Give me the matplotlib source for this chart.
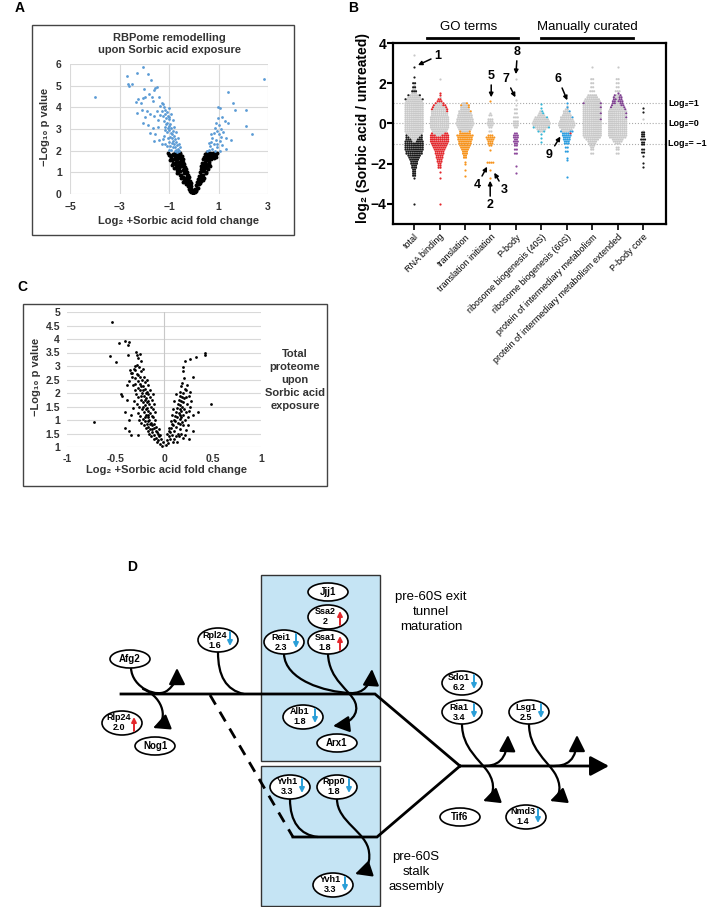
import numpy as np
import matplotlib
matplotlib.use('Agg')
import matplotlib.pyplot as plt
from matplotlib.patches import Rectangle, Ellipse, FancyArrowPatch
from matplotlib.path import Path

plt.rcParams['font.family'] = ['Liberation Sans', 'DejaVu Sans']

W, H = 709, 907

# ---------------- panel A data (RBPome volcano) ----------------
a_blue = [(-4.0, 4.47), (-2.04, 5.85), (-1.84, 5.53), (-2.28, 5.57), (-2.69, 5.43), (-2.65, 5.10),
          (-2.49, 5.10), (-2.60, 5.00), (-1.71, 5.25), (-1.50, 4.95), (-1.55, 4.88), (-1.60, 4.80),
          (-2.00, 4.83), (-2.05, 4.45), (-1.95, 4.50), (-2.25, 4.40), (-2.35, 4.25), (-2.15, 4.20),
          (-1.80, 4.60), (-1.70, 4.50), (-1.65, 4.30), (-1.40, 4.50), (-1.30, 4.20), (-1.25, 4.15),
          (-1.35, 4.05), (-2.30, 3.75), (-2.10, 3.90), (-1.90, 3.85), (-1.75, 3.70), (-1.95, 3.55),
          (-2.05, 3.30), (-1.85, 3.20), (-1.60, 3.60), (-1.50, 3.85), (-1.45, 3.40), (-1.65, 3.05),
          (-1.75, 2.80), (-1.55, 2.75), (-1.45, 3.10), (-1.40, 2.50), (-1.60, 2.45), (-1.30, 2.30),
          (-1.20, 2.70), (-1.20, 4.00), (-1.15, 3.90), (-1.10, 3.80), (-1.18, 3.70), (-1.05, 3.60),
          (-1.12, 3.50), (-1.00, 3.45), (-1.08, 3.30), (-0.95, 3.25), (-1.02, 3.15), (-0.90, 3.05),
          (-0.98, 2.95), (-0.85, 2.90), (-0.93, 2.80), (-0.80, 2.70), (-0.88, 2.60), (-0.75, 2.55),
          (-0.83, 2.45), (-0.70, 2.40), (-0.78, 2.30), (-0.66, 2.25), (-0.74, 2.15), (-0.62, 2.10),
          (-0.70, 2.05), (-0.58, 2.00), (-0.66, 1.95), (-1.25, 3.60), (-1.22, 3.35), (-1.15, 3.10),
          (-1.10, 2.85), (-1.05, 2.60), (-1.00, 2.40), (-0.95, 2.20), (-0.90, 2.05), (-1.15, 2.30),
          (-1.25, 2.55), (-0.60, 2.30), (-0.65, 2.60), (-0.72, 2.85), (-0.78, 3.10), (-0.85, 3.40),
          (-0.92, 3.70), (-1.00, 3.95), (-1.30, 3.85), (-1.35, 3.65), (-0.55, 2.15), (-0.95, 2.65),
          (-0.88, 2.35), (-0.82, 2.15), (-1.05, 3.05), (-1.12, 3.25), (-1.08, 2.20), (-0.86, 2.75),
          (-0.98, 3.55), (-1.18, 2.95), (-0.76, 2.00), (-1.02, 2.05),
          (0.98, 4.00), (1.05, 3.95), (1.39, 4.70), (1.60, 4.20), (1.67, 3.90), (1.14, 3.55),
          (0.98, 3.50), (2.82, 5.30), (2.12, 3.90), (2.12, 3.13), (2.37, 2.76), (0.90, 3.30),
          (1.00, 3.20), (1.10, 3.00), (0.85, 3.05), (0.95, 2.90), (0.80, 2.80), (1.20, 2.85),
          (1.30, 2.60), (0.75, 2.60), (0.90, 2.50), (1.05, 2.45), (0.70, 2.40), (0.80, 2.30),
          (1.15, 2.25), (0.65, 2.20), (0.75, 2.10), (0.95, 2.15), (0.60, 2.05), (0.85, 2.00),
          (1.05, 2.00), (0.55, 1.98), (1.40, 3.30), (1.25, 3.35), (1.50, 2.50), (0.70, 2.75),
          (1.10, 2.65), (0.92, 2.30), (1.00, 2.75), (0.62, 2.35), (1.30, 2.10)]

a_black = [(-0.05, 0.05), (-0.08, 0.15), (-0.04, 0.20), (-0.12, 0.25), (-0.10, 0.35), (-0.16, 0.40),
           (-0.13, 0.50), (-0.20, 0.55), (-0.17, 0.62), (-0.24, 0.70), (-0.20, 0.78), (-0.28, 0.82),
           (-0.25, 0.90), (-0.32, 0.95), (-0.28, 1.02), (-0.36, 1.08), (-0.33, 1.15), (-0.40, 1.20),
           (-0.36, 1.26), (-0.44, 1.30), (-0.40, 1.38), (-0.48, 1.42), (-0.44, 1.50), (-0.52, 1.55),
           (-0.48, 1.62), (-0.56, 1.66), (-0.52, 1.72), (-0.60, 1.76), (-0.56, 1.84), (-0.64, 1.86),
           (-0.60, 1.92), (-0.68, 1.90), (-0.72, 1.82), (-0.76, 1.88), (-0.80, 1.80), (-0.85, 1.85),
           (-0.90, 1.70), (-0.95, 1.78), (-1.00, 1.80), (-1.05, 1.87), (-0.66, 1.60), (-0.70, 1.50),
           (-0.75, 1.40), (-0.62, 1.35), (-0.58, 1.20), (-0.55, 1.05), (-0.50, 0.90), (-0.45, 0.80),
           (-0.40, 0.65), (-0.35, 0.55), (-0.30, 0.45), (-0.25, 0.35), (-0.20, 0.25), (-0.15, 0.15),
           (-0.86, 1.34), (-0.57, 0.88), (-0.29, 0.50), (-0.10, 0.10), (-0.80, 1.60), (-0.88, 1.55),
           (-0.72, 1.25), (-0.66, 1.10), (-0.50, 1.30), (-0.45, 1.10), (-0.38, 0.95), (-0.33, 0.75),
           (-0.27, 0.62), (-0.22, 0.45), (-0.64, 1.70), (-0.70, 1.72), (-0.54, 1.45), (-0.60, 1.50),
           (-0.93, 1.62), (-0.82, 1.45), (-0.76, 1.65), (-0.48, 1.75), (-0.42, 1.60), (-0.55, 1.90),
           (-0.62, 1.02), (-0.52, 0.75), (-0.42, 0.55), (-0.78, 1.20), (-0.68, 0.95), (-0.95, 1.55),
           (0.04, 0.10), (0.08, 0.18), (0.06, 0.25), (0.12, 0.30), (0.10, 0.40), (0.16, 0.45),
           (0.13, 0.55), (0.20, 0.60), (0.17, 0.70), (0.24, 0.75), (0.20, 0.85), (0.28, 0.90),
           (0.24, 1.00), (0.32, 1.05), (0.28, 1.15), (0.36, 1.20), (0.31, 1.30), (0.40, 1.35),
           (0.35, 1.45), (0.44, 1.50), (0.39, 1.60), (0.48, 1.62), (0.43, 1.72), (0.52, 1.75),
           (0.47, 1.85), (0.56, 1.88), (0.52, 1.93), (0.60, 1.80), (0.64, 1.90), (0.68, 1.85),
           (0.72, 1.78), (0.76, 1.88), (0.80, 1.82), (0.85, 1.90), (0.90, 1.85), (0.95, 1.88),
           (0.56, 1.60), (0.60, 1.50), (0.64, 1.65), (0.70, 1.60), (0.50, 1.40), (0.55, 1.30),
           (0.46, 1.20), (0.42, 1.05), (0.38, 0.90), (0.33, 0.75), (0.28, 0.60), (0.22, 0.45),
           (0.16, 0.30), (0.10, 0.15), (0.66, 1.75), (0.58, 1.70), (0.75, 1.70), (0.48, 1.02),
           (0.36, 0.65), (0.25, 0.50), (0.62, 1.40), (0.80, 1.65), (0.53, 1.55), (0.45, 1.30),
           (0.30, 0.80), (0.88, 1.72), (0.40, 0.75), (0.50, 0.95), (0.58, 1.15), (0.66, 1.30)]

# ---------------- panel B data (binned dot columns: value, count) ----------------
b_names = ['total', 'RNA binding', 'translation', 'translation initiation', 'P-body',
           'ribosome biogenesis (40S)', 'ribosome biogenesis (60S)',
           'protein of intermediary metabolism', 'protein of intermediary metabolism extended',
           'P-body core']
b_colors = ['#1a1a1a', '#e3262b', '#f7941d', '#f7941d', '#8e4a9c',
            '#35b6d6', '#2b9de0', '#7d3f8f', '#7d3f8f', '#1a1a1a']

b_gray = [
    [(3.4, 1), (1.9, 1), (1.7, 2), (1.5, 3), (1.4, 5), (1.3, 7), (1.2, 8), (1.1, 9), (1.0, 10), (0.9, 10),
     (0.8, 10), (0.7, 10), (0.6, 10), (0.5, 10), (0.4, 10), (0.3, 10), (0.2, 10), (0.1, 10), (0.0, 10),
     (-0.1, 10), (-0.2, 10), (-0.3, 10), (-0.4, 10), (-0.5, 9), (-0.6, 7), (-0.7, 5), (-0.8, 3), (-0.9, 2)],
    [(2.2, 1), (1.3, 1), (1.0, 3), (0.9, 4), (0.8, 6), (0.7, 7), (0.6, 8), (0.5, 9), (0.4, 9), (0.3, 10),
     (0.2, 10), (0.1, 10), (0.0, 10), (-0.1, 10), (-0.2, 10), (-0.3, 9), (-0.4, 8), (-0.5, 6), (-0.6, 3)],
    [(1.0, 2), (0.9, 3), (0.8, 4), (0.7, 5), (0.6, 6), (0.5, 7), (0.4, 8), (0.3, 8), (0.2, 9), (0.1, 9),
     (0.0, 10), (-0.1, 9), (-0.2, 8), (-0.3, 7), (-0.4, 4)],
    [(0.5, 1), (0.4, 2), (0.2, 3), (0.1, 3), (0.0, 4), (-0.1, 3), (-0.2, 2), (-0.4, 2)],
    [(2.2, 1), (1.15, 1), (0.9, 1), (0.7, 2), (0.5, 2), (0.3, 3), (0.1, 3), (0.0, 3), (-0.1, 3), (-0.2, 2)],
    [(0.6, 1), (0.5, 2), (0.4, 4), (0.3, 6), (0.2, 8), (0.1, 9), (0.0, 10), (-0.1, 9), (-0.2, 7),
     (-0.3, 5), (-0.4, 2)],
    [(0.85, 1), (0.7, 2), (0.6, 3), (0.5, 4), (0.4, 5), (0.3, 6), (0.2, 7), (0.1, 8), (0.0, 9),
     (-0.1, 9), (-0.2, 8), (-0.3, 6), (-0.4, 4)],
    [(2.8, 1), (2.2, 2), (2.0, 2), (1.8, 2), (1.6, 3), (1.4, 5), (1.3, 6), (1.2, 8), (1.1, 9), (1.0, 8),
     (0.9, 10), (0.8, 9), (0.7, 10), (0.6, 10), (0.5, 9), (0.4, 10), (0.3, 10), (0.2, 9), (0.1, 10),
     (0.0, 10), (-0.1, 10), (-0.2, 10), (-0.3, 10), (-0.4, 10), (-0.5, 10), (-0.6, 10), (-0.7, 9),
     (-0.8, 7), (-0.9, 5), (-1.0, 4), (-1.1, 3), (-1.2, 2), (-1.3, 2), (-1.5, 2)],
    [(2.8, 1), (2.2, 2), (2.0, 2), (1.8, 2), (1.6, 3), (1.4, 2), (1.3, 2), (1.2, 1), (1.1, 1), (1.0, 2),
     (0.9, 4), (0.8, 6), (0.7, 8), (0.6, 10), (0.5, 9), (0.4, 10), (0.3, 9), (0.2, 10), (0.1, 10),
     (0.0, 10), (-0.1, 10), (-0.2, 10), (-0.3, 10), (-0.4, 10), (-0.5, 10), (-0.6, 10), (-0.7, 9),
     (-0.8, 6), (-0.9, 5), (-1.0, 3), (-1.2, 2), (-1.3, 2), (-1.5, 2)],
    [(0.2, 1), (-0.4, 1)],
]
b_hits = [
    [(2.8, 1), (2.3, 1), (2.0, 2), (1.8, 2), (1.6, 3), (1.4, 2), (1.2, 2), (-0.6, 2), (-0.7, 4),
     (-0.8, 6), (-0.9, 8), (-1.0, 10), (-1.1, 10), (-1.2, 10), (-1.3, 10), (-1.4, 9), (-1.5, 9),
     (-1.6, 7), (-1.7, 6), (-1.8, 5), (-1.9, 4), (-2.0, 4), (-2.1, 3), (-2.2, 3), (-2.3, 2), (-2.4, 2),
     (-2.5, 2), (-2.6, 2), (-2.7, 1), (-4.0, 1)],
    [(1.5, 1), (1.4, 1), (1.2, 2), (1.1, 3), (1.0, 2), (0.9, 3), (0.8, 2), (0.7, 2), (0.6, 1),
     (-0.5, 3), (-0.6, 7), (-0.7, 10), (-0.8, 10), (-0.9, 10), (-1.0, 9), (-1.1, 8), (-1.2, 7),
     (-1.3, 6), (-1.4, 5), (-1.5, 5), (-1.6, 4), (-1.7, 4), (-1.8, 3), (-1.9, 3), (-2.0, 2), (-2.1, 2),
     (-2.2, 2), (-2.4, 1), (-2.7, 1), (-4.0, 1)],
    [(1.0, 1), (0.9, 2), (0.8, 1), (0.6, 1), (-0.4, 2), (-0.5, 6), (-0.6, 9), (-0.7, 8), (-0.8, 8),
     (-0.9, 7), (-1.0, 7), (-1.1, 6), (-1.2, 5), (-1.3, 4), (-1.4, 3), (-1.5, 3), (-1.6, 2), (-1.7, 2),
     (-1.9, 1), (-2.0, 1), (-2.3, 1), (-2.6, 1)],
    [(1.1, 1), (-0.6, 3), (-0.7, 5), (-0.8, 4), (-0.9, 3), (-1.0, 3), (-1.1, 2), (-1.3, 1),
     (-1.95, 4), (-2.3, 1), (-2.7, 1)],
    [(-0.5, 2), (-0.6, 3), (-0.7, 3), (-0.8, 2), (-0.9, 3), (-1.0, 2), (-1.1, 2), (-1.3, 2), (-1.5, 2),
     (-2.1, 1), (-2.45, 1)],
    [(0.95, 1), (0.75, 1), (0.6, 1), (0.5, 1), (0.3, 1), (-0.2, 2), (-0.4, 2), (-0.5, 1), (-0.7, 1),
     (-0.9, 1)],
    [(1.0, 1), (0.8, 1), (0.6, 1), (0.3, 1), (-0.4, 3), (-0.5, 4), (-0.6, 5), (-0.7, 4), (-0.8, 4),
     (-0.9, 3), (-1.0, 3), (-1.2, 2), (-1.4, 2), (-1.7, 1), (-1.8, 1), (-2.65, 1)],
    [(1.0, 2), (0.8, 1), (0.5, 1), (0.2, 1)],
    [(1.5, 1), (1.4, 2), (1.3, 3), (1.2, 4), (1.1, 5), (1.0, 4), (0.9, 3), (0.8, 2), (0.7, 1),
     (0.5, 1), (0.3, 1)],
    [(0.75, 1), (0.55, 1), (-0.45, 2), (-0.55, 2), (-0.65, 2), (-0.8, 3), (-0.95, 2), (-1.05, 2),
     (-1.3, 2), (-1.45, 2), (-1.6, 1), (-1.95, 1), (-2.15, 1)],
]
b_red_60s = [(-0.5, 1)]

# numbered call-outs in panel B: label, text position, arrow tip
b_callouts = [('1', (0.91, 3.35), (0.15, 2.9)), ('8', (4.06, 3.55), (4.0, 2.45)),
              ('7', (3.62, 2.2), (3.98, 1.3)), ('5', (3.03, 2.35), (3.03, 1.3)),
              ('6', (5.67, 2.2), (6.02, 1.15)), ('9', (5.31, -1.55), (5.75, -0.65)),
              ('4', (2.48, -3.05), (2.87, -2.15)), ('2', (2.99, -4.05), (2.99, -2.85)),
              ('3', (3.54, -3.3), (3.15, -2.45))]

# ---------------- panel C data (total proteome volcano) ----------------
c_pts = [(-0.02, 0.05), (-0.04, 0.12), (-0.01, 0.20), (-0.06, 0.25), (-0.03, 0.30), (-0.08, 0.35),
         (-0.05, 0.40), (-0.10, 0.45), (-0.06, 0.50), (-0.12, 0.55), (-0.08, 0.60), (-0.14, 0.65),
         (-0.10, 0.70), (-0.16, 0.75), (-0.12, 0.80), (-0.18, 0.85), (-0.13, 0.90), (-0.20, 0.95),
         (-0.15, 1.00), (-0.22, 1.05), (-0.17, 1.10), (-0.12, 1.15), (-0.19, 1.20), (-0.14, 1.25),
         (-0.21, 1.30), (-0.16, 1.35), (-0.23, 1.40), (-0.18, 1.45), (-0.13, 1.50), (-0.20, 1.55),
         (-0.15, 1.60), (-0.22, 1.65), (-0.17, 1.70), (-0.24, 1.75), (-0.19, 1.80), (-0.14, 1.85),
         (-0.21, 1.90), (-0.16, 1.95), (-0.23, 2.00), (-0.18, 2.05), (-0.25, 2.10), (-0.20, 2.15),
         (-0.27, 2.20), (-0.22, 2.25), (-0.25, 2.35), (-0.20, 2.40), (-0.27, 2.45), (-0.23, 2.50),
         (-0.30, 2.55), (-0.25, 2.60), (-0.28, 2.70), (-0.24, 2.80), (-0.30, 2.85), (-0.26, 2.95),
         (-0.28, 3.05), (-0.24, 3.20), (-0.27, 3.30), (-0.25, 3.45), (-0.29, 3.52), (-0.28, 3.40),
         (-0.07, 0.20), (-0.10, 0.30), (-0.13, 0.40), (-0.15, 0.50), (-0.17, 0.60), (-0.05, 0.65),
         (-0.19, 0.70), (-0.08, 0.75), (-0.21, 0.80), (-0.10, 0.85), (-0.24, 0.90), (-0.09, 1.00),
         (-0.26, 1.00), (-0.11, 1.10), (-0.25, 1.15), (-0.09, 1.30), (-0.27, 1.25), (-0.11, 1.40),
         (-0.26, 1.50), (-0.10, 1.60), (-0.28, 1.60), (-0.12, 1.75), (-0.27, 1.85), (-0.11, 1.95),
         (-0.29, 1.95), (-0.14, 2.10), (-0.30, 2.10), (-0.16, 2.30), (-0.32, 2.30), (-0.18, 2.50),
         (-0.04, 0.45), (-0.07, 0.55), (-0.12, 0.65), (-0.14, 0.85), (-0.17, 0.95), (-0.20, 1.10),
         (-0.16, 1.20), (-0.19, 1.40), (-0.22, 1.50), (-0.18, 1.65), (-0.20, 1.75), (-0.24, 1.90),
         (-0.19, 2.00), (-0.22, 2.10), (-0.24, 2.25), (-0.21, 2.60), (-0.27, 2.65), (-0.22, 2.90),
         (-0.72, 0.94), (-0.43, 1.90), (-0.44, 1.96), (-0.38, 1.74), (-0.40, 0.70), (-0.34, 0.45),
         (-0.27, 0.45), (-0.36, 1.00), (-0.32, 1.44), (-0.40, 1.30), (-0.38, 2.30), (-0.33, 2.75),
         (-0.35, 2.85), (-0.30, 2.35), (-0.36, 0.60), (-0.54, 4.63), (-0.46, 3.85), (-0.40, 3.93),
         (-0.36, 3.90), (-0.37, 3.78), (-0.56, 3.37), (-0.50, 3.15), (-0.37, 3.41), (-0.34, 2.74),
         (-0.31, 2.90), (-0.30, 3.00), (-0.33, 2.60), (-0.36, 2.45), (-0.31, 1.70), (-0.34, 1.20),
         (0.02, 0.08), (0.04, 0.15), (0.03, 0.25), (0.06, 0.30), (0.05, 0.40), (0.08, 0.45),
         (0.06, 0.55), (0.10, 0.60), (0.07, 0.70), (0.12, 0.75), (0.08, 0.85), (0.14, 0.90),
         (0.10, 1.00), (0.16, 1.05), (0.11, 1.15), (0.17, 1.20), (0.12, 1.30), (0.18, 1.35),
         (0.13, 1.45), (0.19, 1.50), (0.14, 1.60), (0.20, 1.65), (0.15, 1.75), (0.21, 1.80),
         (0.16, 1.90), (0.20, 2.00), (0.17, 2.05), (0.22, 2.15), (0.18, 2.25), (0.19, 2.37),
         (0.23, 2.10), (0.20, 2.97), (0.20, 2.80), (0.22, 3.19), (0.27, 3.26), (0.33, 3.33),
         (0.42, 3.47), (0.42, 3.40), (0.30, 2.60), (0.48, 1.60), (0.35, 1.30), (0.19, 0.93),
         (0.23, 0.63), (0.25, 1.10), (0.27, 1.50), (0.26, 1.90), (0.24, 2.30), (0.22, 0.45),
         (0.20, 0.35), (0.13, 0.20), (0.10, 0.30), (0.14, 0.50), (0.16, 0.65), (0.20, 0.80),
         (0.22, 1.00), (0.23, 1.30), (0.24, 1.60), (0.05, 0.70), (0.07, 0.95), (0.08, 1.20),
         (0.09, 1.40), (0.10, 1.70), (0.12, 1.95), (0.28, 1.70), (0.30, 1.20), (0.25, 0.80),
         (0.27, 2.05), (0.26, 0.30), (0.30, 0.60), (0.21, 2.55), (0.18, 1.10), (0.15, 0.40),
         (0.03, 0.50), (0.05, 0.60), (0.09, 0.80), (0.11, 0.95), (0.13, 1.10), (0.15, 1.25),
         (0.16, 1.40), (0.17, 1.55), (0.18, 1.70), (0.19, 1.85), (0.21, 1.40), (0.20, 1.20),
         (0.17, 0.85), (0.12, 0.40), (0.09, 0.20), (0.18, 0.50), (0.26, 1.35), (0.23, 1.85)]
c_ytick_labels = ['1', '1.5', '1', '1.5', '2', '2.5', '3', '3.5', '4', '4.5', '5']

# ---------------- panel D (pathway) nodes: name, fold change, direction ----------------
d_nodes = [('Jjj1', None, None, 328, 592), ('Ssa2', '2', 'up', 328, 617), ('Ssa1', '1.8', 'up', 328, 642),
           ('Rei1', '2.3', 'down', 284, 642), ('Rpl24', '1.6', 'down', 218, 640),
           ('Afg2', None, None, 130, 659), ('Rlp24', '2.0', 'up', 122, 723), ('Nog1', None, None, 155, 746),
           ('Alb1', '1.8', 'down', 303, 717), ('Arx1', None, None, 337, 743),
           ('Yvh1', '3.3', 'down', 290, 787), ('Rpp0', '1.8', 'down', 337, 787),
           ('Yvh1', '3.3', 'down', 333, 885), ('Sdo1', '6.2', 'down', 462, 683),
           ('Ria1', '3.4', 'down', 462, 712), ('Lsg1', '2.5', 'down', 529, 712),
           ('Tif6', None, None, 460, 817), ('Nmd3', '1.4', 'down', 526, 817)]


fig = plt.figure(figsize=(W / 100, H / 100), dpi=100)
bg = fig.add_axes([0, 0, 1, 1])
bg.set_xlim(0, W)
bg.set_ylim(H, 0)
bg.axis('off')


def px_axes(left, top, right, bottom):
    return fig.add_axes([left / W, 1 - bottom / H, (right - left) / W, (bottom - top) / H])


for lab, x, y in [('A', 20, 8), ('B', 353, 8), ('C', 22, 287), ('D', 132, 567)]:
    bg.text(x, y, lab, fontsize=10, fontweight='bold', ha='center', va='center')

# ---- A ----
bg.add_patch(Rectangle((32, 25), 262, 210, fill=False, ec='#444444', lw=1))
bg.text(169, 44, 'RBPome remodelling\nupon Sorbic acid exposure', ha='center', va='center',
        fontsize=8, fontweight='bold', color='#333333', linespacing=1.25)
axA = px_axes(70, 64, 268, 194)
axA.scatter(*zip(*a_black), s=8, color='black', lw=0, zorder=3)
axA.scatter(*zip(*a_blue), s=4, color='#5b9bd5', lw=0, zorder=3)
axA.set_xlim(-5, 3)
axA.set_ylim(0, 6)
axA.set_xticks([-5, -3, -1, 1, 3])
axA.set_yticks(range(0, 7))
axA.grid(True, color='#d9d9d9', lw=0.8)
axA.set_axisbelow(True)
for s in axA.spines.values():
    s.set_visible(False)
axA.tick_params(length=0, labelsize=7.5, labelcolor='#333333', pad=6)
for t in axA.get_xticklabels() + axA.get_yticklabels():
    t.set_fontweight('bold')
bg.text(45, 127, '−Log₁₀ p value', rotation=90, ha='center', va='center', fontsize=8,
        fontweight='bold', color='#333333')
bg.text(178, 221, 'Log₂ +Sorbic acid fold change', ha='center', va='center', fontsize=8,
        fontweight='bold', color='#333333')

# ---- B ----
axB = px_axes(393, 43, 666, 224)
dx = 0.075


def draw_col(ax, xc, gray, hits, color, extra=None):
    rows = {}
    for y, n in gray:
        rows.setdefault(y, []).extend(['#c8c8c8'] * n)
    for y, n in hits:
        rows.setdefault(y, []).extend([color] * n)
    if extra:
        for y, n in extra:
            rows.setdefault(y, []).extend(['#e3262b'] * n)
    for y, cols in rows.items():
        n = len(cols)
        offs = (np.arange(n) - (n - 1) / 2) * dx
        order = np.argsort(np.abs(offs), kind='stable')
        ax.scatter(xc + offs[order], [y] * n, c=cols, s=2.5, lw=0, zorder=3)


for i in range(len(b_names)):
    draw_col(axB, i, b_gray[i], b_hits[i], b_colors[i], b_red_60s if i == 6 else None)

for yl in (1, 0, -1):
    axB.axhline(yl, color='#aaaaaa', ls=':', lw=0.8, zorder=1)
for yl, lab in [(1, 'Log₂=1'), (0, 'Log₂=0'), (-1, 'Log₂= −1')]:
    axB.text(1.008, yl, lab, transform=axB.get_yaxis_transform(), fontsize=6.5, fontweight='bold',
             va='center', ha='left')
for lab, xyt, xy in b_callouts:
    axB.annotate(lab, xy=xy, xytext=xyt, fontsize=9, fontweight='bold', ha='center', va='center',
                 arrowprops=dict(arrowstyle='-|>', lw=1.1, color='black', mutation_scale=6,
                                 shrinkA=0, shrinkB=0))
axB.set_xlim(-0.83, 9.9)
axB.set_ylim(-5, 4)
axB.set_yticks([-4, -2, 0, 2, 4])
axB.set_xticks(range(len(b_names)))
axB.set_xticklabels(b_names, rotation=45, ha='right', rotation_mode='anchor', fontsize=6.5)
for t in axB.get_yticklabels():
    t.set_fontweight('bold')
axB.tick_params(axis='y', labelsize=10, length=4, width=1.5, pad=1)
axB.tick_params(axis='x', length=4, width=1.2, pad=2)
for s in axB.spines.values():
    s.set_linewidth(1.6)
bg.text(363, 128, 'log₂ (Sorbic acid / untreated)', rotation=90, ha='center', va='center',
        fontsize=10, fontweight='bold')
bg.text(469, 27, 'GO terms', ha='center', va='center', fontsize=9.5)
bg.text(587, 27, 'Manually curated', ha='center', va='center', fontsize=9.5)
bg.plot([427, 518], [38, 38], color='black', lw=2)
bg.plot([541, 633], [38, 38], color='black', lw=2)

# ---- C ----
bg.add_patch(Rectangle((23, 304), 304, 182, fill=False, ec='#444444', lw=1))
axC = px_axes(67, 312, 261, 447)
axC.scatter(*zip(*c_pts), s=4, color='black', lw=0, zorder=3)
axC.set_xlim(-1, 1)
axC.set_ylim(0, 5)
axC.set_yticks(np.arange(0, 5.01, 0.5))
axC.set_yticklabels(c_ytick_labels)
axC.set_xticks([-1, -0.5, 0, 0.5, 1])
axC.set_xticklabels(['-1', '-0.5', '0', '0.5', '1'])
axC.grid(True, axis='y', color='#d9d9d9', lw=0.8)
axC.axvline(0, color='#c8c8c8', lw=0.8, zorder=1)
axC.set_axisbelow(True)
for s in axC.spines.values():
    s.set_visible(False)
axC.tick_params(length=0, labelsize=7.5, labelcolor='#333333', pad=5)
for t in axC.get_xticklabels() + axC.get_yticklabels():
    t.set_fontweight('bold')
bg.text(36, 377, '−Log₁₀ p value', rotation=90, ha='center', va='center', fontsize=8,
        fontweight='bold', color='#333333')
bg.text(166, 470, 'Log₂ +Sorbic acid fold change', ha='center', va='center', fontsize=8,
        fontweight='bold', color='#333333')
bg.text(295, 380, 'Total\nproteome\nupon\nSorbic acid\nexposure', ha='center', va='center',
        fontsize=8, fontweight='bold', color='#333333', linespacing=1.35)

# ---- D ----
bg.add_patch(Rectangle((261, 575), 119, 186, fc='#c5e4f4', ec='#333333', lw=1, zorder=1))
bg.add_patch(Rectangle((261, 766), 119, 140, fc='#c5e4f4', ec='#333333', lw=1, zorder=1))
bg.text(431, 612, 'pre-60S exit\ntunnel\nmaturation', ha='center', va='center', fontsize=9.5,
        linespacing=1.35)
bg.text(416, 872, 'pre-60S\nstalk\nassembly', ha='center', va='center', fontsize=9.5,
        linespacing=1.3)

bg.plot([121, 375, 460], [694, 694, 766], color='black', lw=2, zorder=2, solid_joinstyle='miter')
bg.plot([293, 377, 460], [837, 837, 766], color='black', lw=2, zorder=2, solid_joinstyle='miter')
bg.plot([210, 293], [695, 837], color='black', lw=2, ls=(0, (4, 3)), zorder=2)
bg.add_patch(FancyArrowPatch((460, 766), (609, 766), arrowstyle='-|>,head_length=0.75,head_width=0.4',
                             mutation_scale=15, lw=2, color='black', shrinkA=0, shrinkB=0, zorder=2))

curves = [
    ([(131, 668), (132, 688), (158, 699), (168, 690), (174, 685), (177, 680), (177, 668)], True),
    ([(143, 689), (165, 698), (168, 722), (153, 728)], True),
    ([(218, 652), (218, 676), (226, 690), (244, 694)], False),
    ([(284, 654), (285, 680), (325, 692), (350, 693), (364, 694), (371, 684), (372, 669)], True),
    ([(328, 654), (329, 680), (350, 690), (355, 702), (360, 714), (350, 724), (333, 726)], True),
    ([(290, 799), (290, 822), (300, 835), (318, 837)], False),
    ([(337, 799), (337, 822), (367, 832), (369, 852), (371, 866), (364, 871), (355, 874)], True),
    ([(462, 724), (462, 748), (480, 760), (488, 772), (496, 784), (494, 797), (483, 801)], True),
    ([(480, 766), (498, 767), (507, 760), (508, 735)], True),
    ([(529, 724), (529, 748), (546, 760), (554, 772), (562, 784), (561, 797), (550, 801)], True),
    ([(550, 766), (568, 767), (577, 760), (577, 735)], True),
]
for pts, head in curves:
    codes = [Path.MOVETO] + [Path.CURVE4] * (len(pts) - 1)
    style = '-|>,head_length=0.7,head_width=0.35' if head else '-'
    bg.add_patch(FancyArrowPatch(path=Path(pts, codes), arrowstyle=style, mutation_scale=14,
                                 lw=1.6, color='black', zorder=2))

for name, val, direc, cx, cy in d_nodes:
    h = 24 if val else 18
    bg.add_patch(Ellipse((cx, cy), 40, h, fc='white', ec='black', lw=1.2, zorder=3))
    if val:
        bg.text(cx - 3, cy - 5, name, ha='center', va='center', fontsize=6.5, fontweight='bold', zorder=4)
        bg.text(cx - 3, cy + 5, val, ha='center', va='center', fontsize=6.5, fontweight='bold', zorder=4)
    else:
        bg.text(cx, cy, name, ha='center', va='center', fontsize=7, fontweight='bold', zorder=4)
    if direc == 'down':
        bg.add_patch(FancyArrowPatch((cx + 12, cy - 8), (cx + 12, cy + 6), arrowstyle='-|>',
                                     mutation_scale=7, lw=1.4, color='#2a9fd8', shrinkA=0,
                                     shrinkB=0, zorder=4))
    elif direc == 'up':
        bg.add_patch(FancyArrowPatch((cx + 12, cy + 8), (cx + 12, cy - 6), arrowstyle='-|>',
                                     mutation_scale=7, lw=1.4, color='#e3262b', shrinkA=0,
                                     shrinkB=0, zorder=4))

fig.savefig('out.png', dpi=100)
